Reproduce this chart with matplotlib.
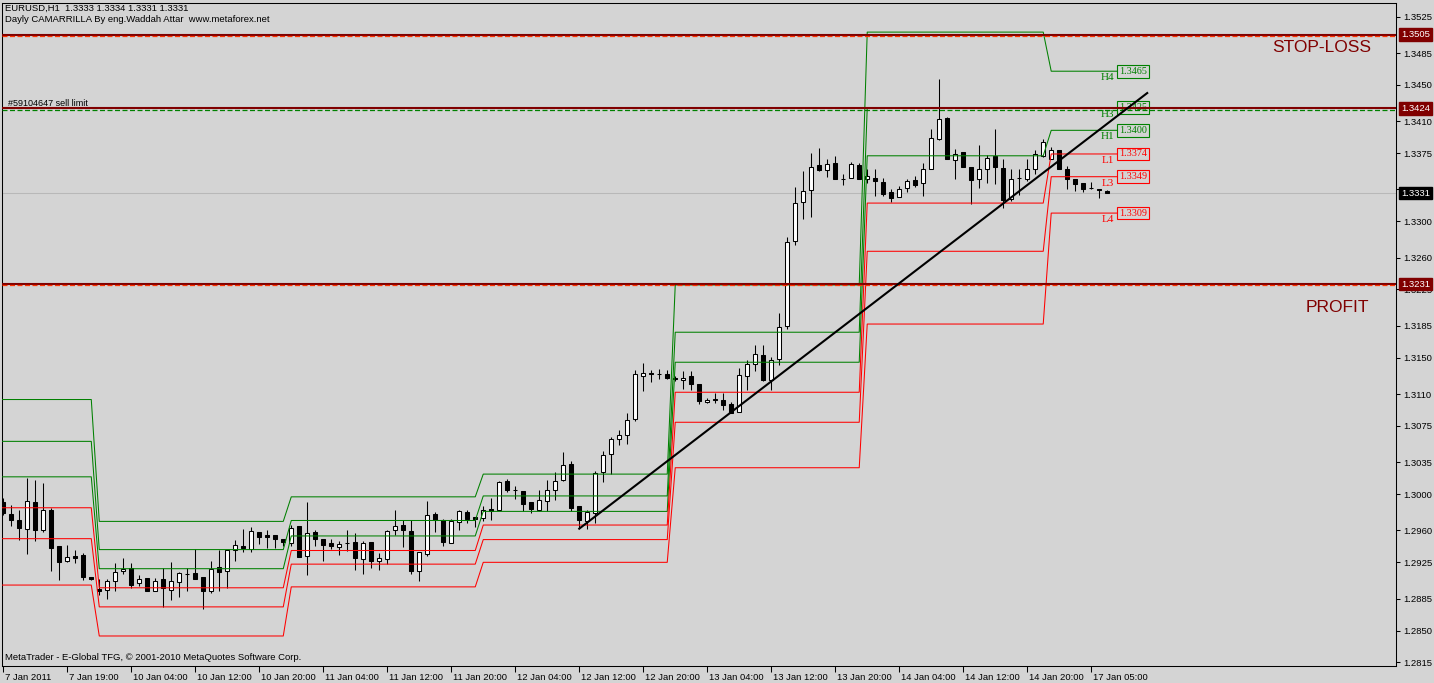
import matplotlib
matplotlib.use('Agg')
import matplotlib.pyplot as plt
import matplotlib.transforms as mtransforms
import numpy as np

W, H = 1434, 683
DPI = 100
BG = '#d4d4d4'
GREEN = '#008000'
RED = '#ff0000'
MAROON = '#800000'

# EURUSD H1 candles, bar 0 = 7 Jan 11:00
opens = [
    1.2991, 1.2978, 1.2972, 1.2962, 1.2991, 1.2961, 1.2982, 1.2943, 1.2926, 1.2932,
    1.2933, 1.2909, 1.2896, 1.2895, 1.2905, 1.2915, 1.2919, 1.2902, 1.2908, 1.2893,
    1.2907, 1.2895, 1.2903, 1.2912, 1.2913, 1.2909, 1.2894, 1.2920, 1.2915, 1.2939,
    1.2943, 1.2940, 1.2958, 1.2955, 1.2955, 1.2951, 1.2946, 1.2965, 1.2932, 1.2958,
    1.2951, 1.2946, 1.2942, 1.2946, 1.2947, 1.2929, 1.2947, 1.2927, 1.2929, 1.2960,
    1.2966, 1.2959, 1.2915, 1.2934, 1.2978, 1.2971, 1.2946, 1.2969, 1.2980, 1.2975,
    1.2974, 1.2984, 1.2983, 1.3014, 1.3004, 1.3003, 1.2991, 1.2983, 1.2992, 1.3004,
    1.3015, 1.3033, 1.2987, 1.2970, 1.2979, 1.3024, 1.3044, 1.3061, 1.3065, 1.3083,
    1.3130, 1.3133, 1.3132, 1.3132, 1.3128, 1.3125, 1.3130, 1.3121, 1.3101, 1.3105,
    1.3103, 1.3099, 1.3090, 1.3130, 1.3143, 1.3153, 1.3126, 1.3149, 1.3185, 1.3278,
    1.3321, 1.3334, 1.3362, 1.3356, 1.3364, 1.3347, 1.3348, 1.3362, 1.3347, 1.3348,
    1.3343, 1.3332, 1.3327, 1.3337, 1.3345, 1.3342, 1.3358, 1.3391, 1.3414, 1.3367,
    1.3376, 1.3360, 1.3346, 1.3357, 1.3372, 1.3359, 1.3324, 1.3348, 1.3346, 1.3358,
    1.3372, 1.3369, 1.3378, 1.3358, 1.3347, 1.3342, 1.3337, 1.3336, 1.3333]
highs = [
    1.2996, 1.2988, 1.2982, 1.3018, 1.3015, 1.3012, 1.2985, 1.2943, 1.2944, 1.2939,
    1.2935, 1.2909, 1.2907, 1.2907, 1.2924, 1.2930, 1.2924, 1.2911, 1.2908, 1.2908,
    1.2919, 1.2925, 1.2914, 1.2919, 1.2940, 1.2909, 1.2926, 1.2938, 1.2939, 1.2950,
    1.2962, 1.2964, 1.2958, 1.2960, 1.2955, 1.2951, 1.2966, 1.2965, 1.2991, 1.2961,
    1.2951, 1.2951, 1.2948, 1.2961, 1.2957, 1.2948, 1.2947, 1.2935, 1.2961, 1.2982,
    1.2972, 1.2972, 1.2936, 1.2992, 1.2980, 1.2973, 1.2973, 1.2982, 1.2982, 1.2975,
    1.2987, 1.2996, 1.3014, 1.3017, 1.3009, 1.3003, 1.2991, 1.3005, 1.3015, 1.3024,
    1.3046, 1.3036, 1.2987, 1.2982, 1.3025, 1.3047, 1.3063, 1.3070, 1.3089, 1.3137,
    1.3144, 1.3137, 1.3138, 1.3137, 1.3130, 1.3135, 1.3135, 1.3121, 1.3106, 1.3111,
    1.3111, 1.3101, 1.3139, 1.3147, 1.3164, 1.3164, 1.3151, 1.3199, 1.3283, 1.3338,
    1.3355, 1.3375, 1.3381, 1.3368, 1.3372, 1.3352, 1.3365, 1.3364, 1.3358, 1.3358,
    1.3348, 1.3336, 1.3339, 1.3347, 1.3350, 1.3364, 1.3401, 1.3456, 1.3415, 1.3379,
    1.3376, 1.3360, 1.3384, 1.3373, 1.3402, 1.3369, 1.3357, 1.3357, 1.3368, 1.3378,
    1.3390, 1.3382, 1.3378, 1.3361, 1.3347, 1.3342, 1.3343, 1.3336, 1.3334]
lows = [
    1.2977, 1.2965, 1.2950, 1.2934, 1.2948, 1.2958, 1.2915, 1.2906, 1.2925, 1.2924,
    1.2906, 1.2906, 1.2889, 1.2885, 1.2893, 1.2912, 1.2897, 1.2899, 1.2894, 1.2893,
    1.2876, 1.2884, 1.2887, 1.2893, 1.2907, 1.2874, 1.2891, 1.2894, 1.2897, 1.2926,
    1.2936, 1.2936, 1.2945, 1.2941, 1.2941, 1.2943, 1.2943, 1.2931, 1.2911, 1.2943,
    1.2927, 1.2940, 1.2933, 1.2937, 1.2917, 1.2912, 1.2919, 1.2917, 1.2923, 1.2955,
    1.2942, 1.2912, 1.2905, 1.2932, 1.2958, 1.2943, 1.2946, 1.2961, 1.2968, 1.2964,
    1.2970, 1.2971, 1.2983, 1.3002, 1.2995, 1.2981, 1.2979, 1.2981, 1.2981, 1.2994,
    1.3014, 1.2981, 1.2963, 1.2962, 1.2968, 1.3013, 1.3022, 1.3054, 1.3055, 1.3080,
    1.3113, 1.3123, 1.3127, 1.3127, 1.3124, 1.3116, 1.3114, 1.3099, 1.3100, 1.3100,
    1.3093, 1.3089, 1.3090, 1.3115, 1.3135, 1.3124, 1.3115, 1.3142, 1.3182, 1.3274,
    1.3303, 1.3305, 1.3355, 1.3349, 1.3346, 1.3340, 1.3348, 1.3346, 1.3342, 1.3328,
    1.3328, 1.3321, 1.3327, 1.3332, 1.3338, 1.3328, 1.3358, 1.3389, 1.3368, 1.3346,
    1.3360, 1.3319, 1.3337, 1.3342, 1.3341, 1.3315, 1.3322, 1.3329, 1.3344, 1.3352,
    1.3371, 1.3368, 1.3358, 1.3336, 1.3333, 1.3332, 1.3335, 1.3326, 1.3331]
closes = [
    1.2979, 1.2972, 1.2963, 1.2992, 1.2961, 1.2982, 1.2941, 1.2925, 1.2931, 1.2930,
    1.2909, 1.2907, 1.2894, 1.2904, 1.2914, 1.2918, 1.2900, 1.2907, 1.2894, 1.2905,
    1.2897, 1.2904, 1.2913, 1.2912, 1.2907, 1.2893, 1.2918, 1.2914, 1.2939, 1.2944,
    1.2941, 1.2959, 1.2953, 1.2953, 1.2951, 1.2947, 1.2963, 1.2931, 1.2957, 1.2951,
    1.2944, 1.2943, 1.2945, 1.2946, 1.2930, 1.2946, 1.2926, 1.2930, 1.2959, 1.2965,
    1.2960, 1.2916, 1.2936, 1.2977, 1.2972, 1.2947, 1.2970, 1.2981, 1.2973, 1.2973,
    1.2982, 1.2981, 1.3013, 1.3005, 1.3004, 1.2989, 1.2984, 1.2993, 1.3005, 1.3014,
    1.3032, 1.2985, 1.2971, 1.2980, 1.3023, 1.3043, 1.3061, 1.3065, 1.3082, 1.3132,
    1.3133, 1.3132, 1.3132, 1.3128, 1.3127, 1.3128, 1.3121, 1.3102, 1.3104, 1.3103,
    1.3098, 1.3089, 1.3131, 1.3143, 1.3154, 1.3125, 1.3148, 1.3184, 1.3277, 1.3320,
    1.3333, 1.3360, 1.3356, 1.3363, 1.3347, 1.3347, 1.3363, 1.3346, 1.3350, 1.3344,
    1.3330, 1.3326, 1.3336, 1.3344, 1.3340, 1.3357, 1.3392, 1.3412, 1.3368, 1.3374,
    1.3360, 1.3345, 1.3358, 1.3370, 1.3360, 1.3323, 1.3347, 1.3348, 1.3357, 1.3374,
    1.3387, 1.3378, 1.3358, 1.3346, 1.3341, 1.3336, 1.3337, 1.3334, 1.3331]

x_labels = ['7 Jan 2011', '7 Jan 19:00', '10 Jan 04:00', '10 Jan 12:00', '10 Jan 20:00',
            '11 Jan 04:00', '11 Jan 12:00', '11 Jan 20:00', '12 Jan 04:00', '12 Jan 12:00',
            '12 Jan 20:00', '13 Jan 04:00', '13 Jan 12:00', '13 Jan 20:00', '14 Jan 04:00',
            '14 Jan 12:00', '14 Jan 20:00', '17 Jan 05:00']
y_ticks = [1.2815, 1.2850, 1.2885, 1.2925, 1.2960, 1.3000, 1.3035, 1.3075, 1.3110, 1.3150,
           1.3185, 1.3225, 1.3260, 1.3300, 1.3335, 1.3375, 1.3410, 1.3450, 1.3485, 1.3525]

# daily camarilla levels (7, 10, 11, 12, 13, 14, 17 Jan)
day_start = [0, 12, 36, 60, 84, 108, 131]
lvl_h4 = [1.3104, 1.2970, 1.2997, 1.3022, 1.3230, 1.3508, 1.3465]
lvl_h3 = [1.3058, 1.2939, 1.2971, 1.2998, 1.3178, 1.3425, 1.3425]
lvl_h1 = [1.3019, 1.2918, 1.2954, 1.2981, 1.3145, 1.3372, 1.3400]
lvl_l1 = [1.2985, 1.2897, 1.2938, 1.2966, 1.3112, 1.3320, 1.3374]
lvl_l3 = [1.2951, 1.2876, 1.2923, 1.2950, 1.3079, 1.3267, 1.3349]
lvl_l4 = [1.2900, 1.2844, 1.2898, 1.2925, 1.3029, 1.3187, 1.3309]

stop_loss = 1.3505
sell_limit = 1.3424
take_profit = 1.3231
bid = 1.3331
trend_x = [72, 143]
trend_y = [1.2962, 1.3441]

plt.rcParams['font.family'] = ['Liberation Sans', 'DejaVu Sans']

fig = plt.figure(figsize=(W / DPI, H / DPI), dpi=DPI, facecolor=BG)
ax = fig.add_axes([2 / W, 1 - 666 / H, 1394 / W, 663 / H], facecolor=BG)
ax.set_xlim(-0.16, 174.1)
ax.set_ylim(1.2811, 1.3540)

n = len(opens)
idx = np.arange(n)
o = np.array(opens)
c = np.array(closes)
hi = np.maximum(np.array(highs), np.maximum(o, c))
lo = np.minimum(np.array(lows), np.minimum(o, c))

# bid line
ax.axhline(bid, color='#b8b8b8', lw=0.75, zorder=1)

# candles
ax.vlines(idx, lo, hi, color='black', lw=0.75, zorder=2)
body_col = ['white' if cc > oo else 'black' for oo, cc in zip(o, c)]
ax.bar(idx, np.abs(c - o), bottom=np.minimum(o, c), width=0.5, color=body_col,
       edgecolor='black', linewidth=0.75, zorder=2.5)

# camarilla step lines
day_of_bar = np.searchsorted(day_start, idx, side='right') - 1
xs = np.concatenate([[-1], idx, [139.3]])
levels = [('H4', lvl_h4, GREEN), ('H3', lvl_h3, GREEN), ('H1', lvl_h1, GREEN),
          ('L1', lvl_l1, RED), ('L3', lvl_l3, RED), ('L4', lvl_l4, RED)]
below = mtransforms.offset_copy(ax.transData, fig=fig, x=0, y=-2, units='dots')
for name, vals, col in levels:
    v = np.asarray(vals)[day_of_bar]
    ax.plot(xs, np.concatenate([[v[0]], v, [v[-1]]]), color=col, lw=0.75, zorder=3)
    last = vals[-1]
    ax.text(139.45, last, f'{last:.4f}', ha='left', va='center', color=col,
            fontsize=7.3, family='Liberation Serif', zorder=4,
            bbox=dict(boxstyle='square,pad=0.18', fc=BG, ec=col, lw=0.8))
    ax.text(138.9, last, name, ha='right', va='top', color=col, fontsize=8,
            family='Liberation Serif', transform=below, zorder=4)

# order lines
for p, dash_col in [(stop_loss, '#ff3300'), (sell_limit, GREEN), (take_profit, '#ff3300')]:
    ax.axhline(p, color=MAROON, lw=1.5, zorder=5)
    ax.axhline(p - 0.00016, color=dash_col, lw=0.9, dashes=(4, 2), zorder=5)

# trend line
ax.plot(trend_x, trend_y, color='black', lw=1.5, zorder=6)

# axes styling
for s in ax.spines.values():
    s.set_color('black')
    s.set_linewidth(0.75)
ax.set_xticks(range(0, 8 * len(x_labels), 8))
ax.set_xticklabels(x_labels, fontsize=6.8, ha='left')
ax.tick_params(axis='x', direction='out', length=4, width=0.75, pad=1)
shift = mtransforms.ScaledTranslation(2 / DPI, 0, fig.dpi_scale_trans)
for lab in ax.get_xticklabels():
    lab.set_transform(lab.get_transform() + shift)
ax.yaxis.tick_right()
ax.set_yticks(y_ticks)
ax.set_yticklabels([f'{t:.4f}' for t in y_ticks], fontsize=6.8)
ax.tick_params(axis='y', direction='out', length=3, width=0.75, pad=2)

# price boxes on the right axis
right = mtransforms.offset_copy(
    mtransforms.blended_transform_factory(ax.transAxes, ax.transData),
    fig=fig, x=5, y=0, units='dots')
for p, col in [(stop_loss, MAROON), (sell_limit, MAROON), (take_profit, MAROON), (bid, 'black')]:
    ax.text(1.0, p, f'{p:.4f}', transform=right, ha='left', va='center', color='white',
            fontsize=6.8, clip_on=False, zorder=10,
            bbox=dict(boxstyle='square,pad=0.2', fc=col, ec=col))

# texts
fig.text(5 / W, 1 - 8 / H, 'EURUSD,H1  1.3333 1.3334 1.3331 1.3331', fontsize=6.8, va='center')
fig.text(5 / W, 1 - 20 / H, 'Dayly CAMARRILLA By eng.Waddah Attar  www.metaforex.net',
         fontsize=6.8, va='center')
fig.text(8 / W, 1 - 103 / H, '#59104647 sell limit', fontsize=6.5, va='center')
fig.text(5 / W, 1 - 657 / H, 'MetaTrader - E-Global TFG, \u00a9 2001-2010 MetaQuotes Software Corp.',
         fontsize=6.8, va='center')
fig.text(1272 / W, 1 - 47 / H, 'STOP-LOSS', fontsize=12.5, color=MAROON, va='center')
fig.text(1306 / W, 1 - 308 / H, 'PROFIT', fontsize=12.5, color=MAROON, va='center')

fig.savefig('out.png', dpi=DPI, facecolor=BG)
